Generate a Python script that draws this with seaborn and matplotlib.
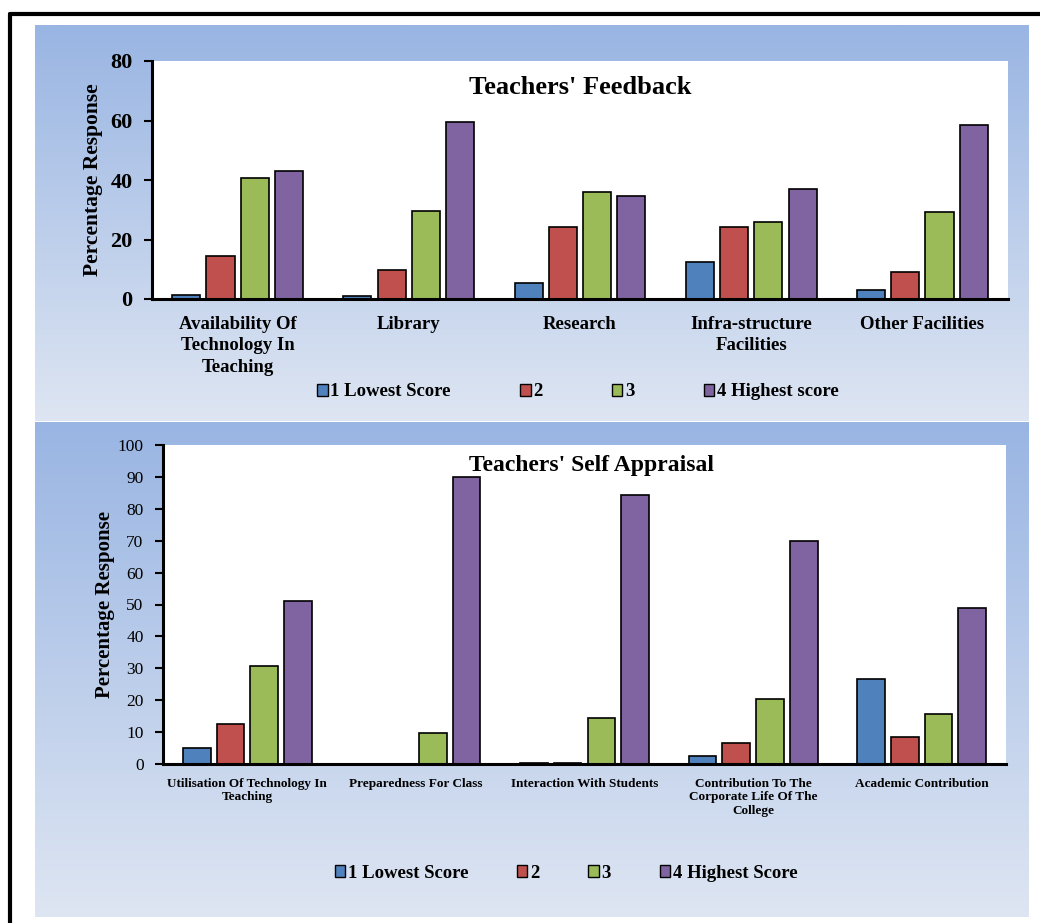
import matplotlib.pyplot as plt
import numpy as np
import pandas as pd
import seaborn as sns
from matplotlib.patches import Patch

sns.set_style("white")
plt.rcParams['font.family'] = ['Liberation Serif', 'DejaVu Serif']
plt.rcParams['text.color'] = 'black'
plt.rcParams['axes.labelcolor'] = 'black'
plt.rcParams['xtick.color'] = 'black'
plt.rcParams['ytick.color'] = 'black'

# Teachers' feedback data
fb_categories = ['Availability Of\nTechnology In\nTeaching', 'Library', 'Research',
                 'Infra-structure\nFacilities', 'Other Facilities']
fb_scores = ['1 Lowest Score', '2', '3', '4 Highest score']
fb_lowest = [1.5, 1.0, 5.3, 12.5, 2.9]
fb_two = [14.4, 9.8, 24.2, 24.2, 9.2]
fb_three = [40.8, 29.5, 36.0, 26.0, 29.2]
fb_highest = [43.0, 59.5, 34.5, 37.0, 58.4]

# Teachers' self appraisal data
sa_categories = ['Utilisation Of Technology In\nTeaching', 'Preparedness For Class',
                 'Interaction With Students',
                 'Contribution To The\nCorporate Life Of The\nCollege',
                 'Academic Contribution']
sa_scores = ['1 Lowest Score', '2', '3', '4 Highest Score']
sa_lowest = [5.0, 0.0, 0.3, 2.4, 26.5]
sa_two = [12.4, 0.0, 0.3, 6.6, 8.5]
sa_three = [30.8, 9.8, 14.4, 20.3, 15.7]
sa_highest = [51.0, 90.0, 84.3, 70.0, 48.8]

colors = ['#4F81BD', '#C0504D', '#9BBB59', '#8064A2']


def long_frame(cats, scores, series):
    rows = []
    for s, vals in zip(scores, series):
        for c, v in zip(cats, vals):
            rows.append({'cat': c, 'score': s, 'val': v})
    return pd.DataFrame(rows)


fb_df = long_frame(fb_categories, fb_scores, [fb_lowest, fb_two, fb_three, fb_highest])
sa_df = long_frame(sa_categories, sa_scores, [sa_lowest, sa_two, sa_three, sa_highest])

W, H = 1040, 923
fig = plt.figure(figsize=(W / 100, H / 100), dpi=100)
fig.patch.set_facecolor('white')

# background panels with vertical gradient
bg = fig.add_axes([0, 0, 1, 1], zorder=-10)
bg.axis('off')
top_c = np.array([0.60, 0.71, 0.89])
bot_c = np.array([0.87, 0.90, 0.95])
grad = np.linspace(0, 1, 256)[:, None, None]
img = top_c * (1 - grad) + bot_c * grad
img = np.repeat(img, 2, axis=1)
bg.imshow(img, extent=(35, 1029, 421, 25), aspect='auto')
bg.imshow(img, extent=(35, 1029, 917, 422), aspect='auto')
bg.plot([9.5, 9.5], [13.5, H + 5], color='black', lw=3)
bg.plot([9.5, W + 5], [13.5, 13.5], color='black', lw=3)
bg.set_xlim(0, W)
bg.set_ylim(H, 0)

# top chart
ax1 = fig.add_axes([152 / W, 1 - 299 / H, 856 / W, 238 / H])
sns.barplot(data=fb_df, x='cat', y='val', hue='score', palette=colors, saturation=1,
            edgecolor='black', linewidth=1.2, gap=0.18, width=0.8, ax=ax1)
ax1.set_ylim(0, 80)
ax1.set_yticks([0, 20, 40, 60, 80])
ax1.set_xlim(-0.5, 4.5)
ax1.set_xlabel('')
ax1.set_ylabel('Percentage Response', fontsize=15.5, fontweight='bold', labelpad=5)
ax1.text(0.5, 0.89, "Teachers' Feedback", transform=ax1.transAxes, ha='center',
         va='center', fontsize=19, fontweight='bold')
ax1.tick_params(axis='y', labelsize=16, length=6, width=1.5, pad=8, direction='out', left=True)
ax1.tick_params(axis='x', labelsize=13.5, length=0, pad=12)
for t in ax1.get_yticklabels() + ax1.get_xticklabels():
    t.set_fontweight('bold')
for t in ax1.get_xticklabels():
    t.set_linespacing(1.35)
ax1.get_legend().remove()

# bottom chart
ax2 = fig.add_axes([163 / W, 1 - 764 / H, 843 / W, 319 / H])
sns.barplot(data=sa_df, x='cat', y='val', hue='score', palette=colors, saturation=1,
            edgecolor='black', linewidth=1.2, gap=0.18, width=0.8, ax=ax2)
ax2.set_ylim(0, 100)
ax2.set_yticks(range(0, 101, 10))
ax2.set_xlim(-0.5, 4.5)
ax2.set_xlabel('')
ax2.set_ylabel('Percentage Response', fontsize=15, fontweight='bold', labelpad=2)
ax2.text(0.508, 0.935, "Teachers' Self Appraisal", transform=ax2.transAxes, ha='center',
         va='center', fontsize=17, fontweight='bold')
ax2.tick_params(axis='y', labelsize=12.5, length=6, width=1.5, pad=8, direction='out', left=True)
ax2.tick_params(axis='x', labelsize=9.5, length=0, pad=10)
for t in ax2.get_xticklabels():
    t.set_fontweight('bold')
    t.set_linespacing(1.15)
ax2.get_legend().remove()

for ax in (ax1, ax2):
    ax.set_facecolor('white')
    for side in ('top', 'right'):
        ax.spines[side].set_visible(False)
    for side in ('left', 'bottom'):
        ax.spines[side].set_color('black')
        ax.spines[side].set_linewidth(2.2)

# legends
fb_handles = [Patch(facecolor=c, edgecolor='black', linewidth=1.0) for c in colors]
fig.legend(fb_handles, fb_scores, loc='center', bbox_to_anchor=(578 / W, 1 - 392 / H),
           ncol=4, frameon=False, handlelength=0.55, handleheight=0.55, handletextpad=0.15,
           columnspacing=3.7, prop={'family': 'Liberation Serif', 'weight': 'bold', 'size': 13.5})
fig.legend(fb_handles, sa_scores, loc='center', bbox_to_anchor=(566 / W, 1 - 873 / H),
           ncol=4, frameon=False, handlelength=0.55, handleheight=0.55, handletextpad=0.15,
           columnspacing=2.6, prop={'family': 'Liberation Serif', 'weight': 'bold', 'size': 13.5})

fig.savefig('out.png', dpi=100)
